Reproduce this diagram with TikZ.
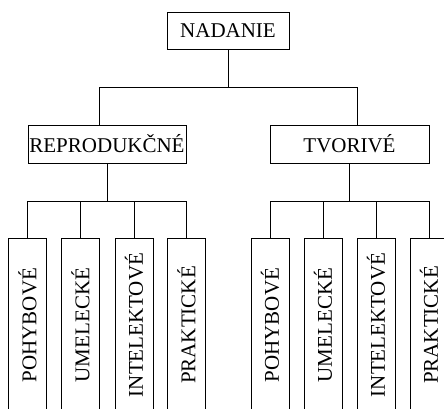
\documentclass[tikz,border=0pt]{standalone}
\usepackage{fontspec}
\setmainfont{Liberation Serif}
\begin{document}
\begin{tikzpicture}[x=1pt,y=1pt,
  every node/.style={font=\fontsize{21}{23}\selectfont},
  box/.style={draw,line width=0.8pt,inner sep=0pt},
  leaf/.style={box,rotate=90,minimum width=174pt,minimum height=38pt},
  conn/.style={line width=0.8pt}]
\useasboundingbox (0,0) rectangle (444,-408);
\clip (0,0) rectangle (444,-408);
\node[box,minimum width=122pt,minimum height=37pt] (nad) at (228,-30.5) {NADANIE};
\node[box,minimum width=158pt,minimum height=38pt] (rep) at (107,-144) {REPRODUKČNÉ};
\node[box,minimum width=159pt,minimum height=38pt] (tvo) at (349.5,-144) {TVORIVÉ};
\node[leaf] (l1) at (27.5,-325) {POHYBOVÉ};
\node[leaf] (l2) at (80.5,-325) {UMELECKÉ};
\node[leaf] (l3) at (134,-325) {INTELEKTOVÉ};
\node[leaf] (l4) at (186.5,-325) {PRAKTICKÉ};
\node[leaf] (r1) at (270,-325) {POHYBOVÉ};
\node[leaf] (r2) at (323,-325) {UMELECKÉ};
\node[leaf] (r3) at (376,-325) {INTELEKTOVÉ};
\node[leaf] (r4) at (429,-325) {PRAKTICKÉ};
\coordinate (ja) at (99,-87);
\coordinate (jb) at (357,-87);
\draw[conn] (nad.south) -- (nad.south |- ja);
\draw[conn] (ja |- rep.north) -- (ja) -- (jb) -- (jb |- tvo.north);
\coordinate (jl) at (107,-201);
\coordinate (jr) at (349.5,-201);
\draw[conn] (rep.south) -- (jl);
\draw[conn] (tvo.south) -- (jr);
\draw[conn] (l1.east) -- (l1.east |- jl) -- (l4.east |- jl) -- (l4.east);
\draw[conn] (l2.east) -- (l2.east |- jl);
\draw[conn] (l3.east) -- (l3.east |- jl);
\draw[conn] (r1.east) -- (r1.east |- jr) -- (r4.east |- jr) -- (r4.east);
\draw[conn] (r2.east) -- (r2.east |- jr);
\draw[conn] (r3.east) -- (r3.east |- jr);
\end{tikzpicture}
\end{document}
